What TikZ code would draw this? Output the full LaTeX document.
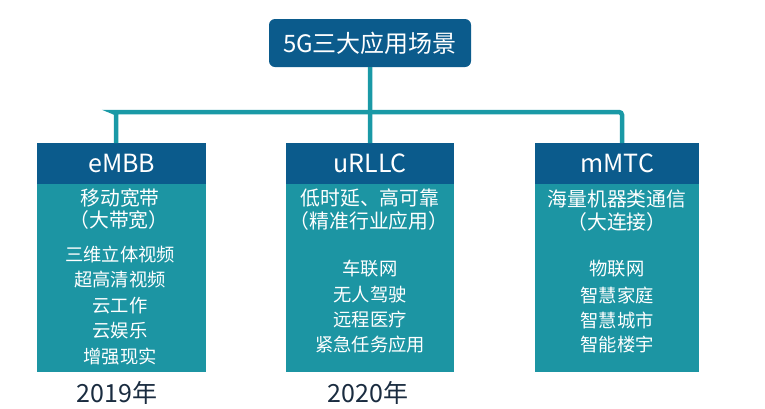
\documentclass[tikz,border=0pt]{standalone}
\usepackage{fontspec}
\setmainfont{Noto Sans CJK SC}
\definecolor{hdblue}{HTML}{0B5B8C}
\definecolor{bodyteal}{HTML}{1C95A3}
\definecolor{lineteal}{HTML}{1A99A6}
\definecolor{yeartxt}{HTML}{1A2C40}
\tikzset{
  body/.style={fill=bodyteal, draw=none, anchor=north west, inner sep=0pt},
  header/.style={fill=hdblue, draw=none, anchor=north west, inner sep=0pt},
  htext/.style={text=white, inner sep=0pt, font=\fontsize{25}{27}\selectfont},
  sub/.style={text=white, inner sep=0pt, font=\fontsize{19.8}{22}\selectfont},
  item/.style={text=white, inner sep=0pt, font=\fontsize{18.3}{20}\selectfont},
  year/.style={text=yeartxt, inner sep=0pt, font=\fontsize{25}{27}\selectfont},
  conn/.style={draw=lineteal, line width=4.5pt, rounded corners=3pt},
}
\begin{document}
\begin{tikzpicture}[x=1pt,y=-1pt]
\useasboundingbox (0,0) rectangle (765,408);
% top
\node[fill=hdblue, rounded corners=6pt, minimum width=202pt, minimum height=48pt, inner sep=0pt, text=white, font=\fontsize{24}{26}\selectfont] (top) at (370,43) {5G三大应用场景};
% boxes
\node[body, minimum width=169pt, minimum height=229pt] (b1) at (37,143) {};
\node[body, minimum width=168pt, minimum height=229pt] (b2) at (286,143) {};
\node[body, minimum width=164pt, minimum height=229pt] (b3) at (535,143) {};
\node[header, minimum width=169pt, minimum height=41pt] (h1) at (37,143) {};
\node[header, minimum width=168pt, minimum height=41pt] (h2) at (286,143) {};
\node[header, minimum width=164pt, minimum height=41pt] (h3) at (535,143) {};
\node[htext] (t1) at (h1.center) {eMBB};
\node[htext] (t2) at (h2.center) {uRLLC};
\node[htext] (t3) at (h3.center) {mMTC};
% connectors
\coordinate (j1) at (116,112);
\coordinate (j3) at (622,112);
\draw[conn] (top.south) -- (b2.north);
\draw[conn] ([xshift=-5.5pt]b1.north) |- (j1) -- (j3) -- ([xshift=5pt]b3.north);
% column 1
\node[sub] (s11) at (120,198) {移动宽带};
\node[sub] (s12) at (119,220) {（大带宽）};
\node[item] (i11) at (120,255) {三维立体视频};
\node[item] (i12) at (120,280) {超高清视频};
\node[item] (i13) at (120,306) {云工作};
\node[item] (i14) at (120,331) {云娱乐};
\node[item] (i15) at (120,357) {增强现实};
\node[year] (y1) at (117,393) {2019年};
% column 2
\node[sub] (s21) at (370,198) {低时延、高可靠};
\node[sub] (s22) at (369,221) {（精准行业应用）};
\node[item] (i21) at (370,269) {车联网};
\node[item] (i22) at (370,295) {无人驾驶};
\node[item] (i23) at (370,320) {远程医疗};
\node[item] (i24) at (370,345) {紧急任务应用};
\node[year] (y2) at (368,393) {2020年};
% column 3
\node[sub] (s31) at (617,199) {海量机器类通信};
\node[sub] (s32) at (617,222) {（大连接）};
\node[item] (i31) at (617,269) {物联网};
\node[item] (i32) at (617,295) {智慧家庭};
\node[item] (i33) at (617,320) {智慧城市};
\node[item] (i34) at (617,345) {智能楼宇};
\end{tikzpicture}
\end{document}
